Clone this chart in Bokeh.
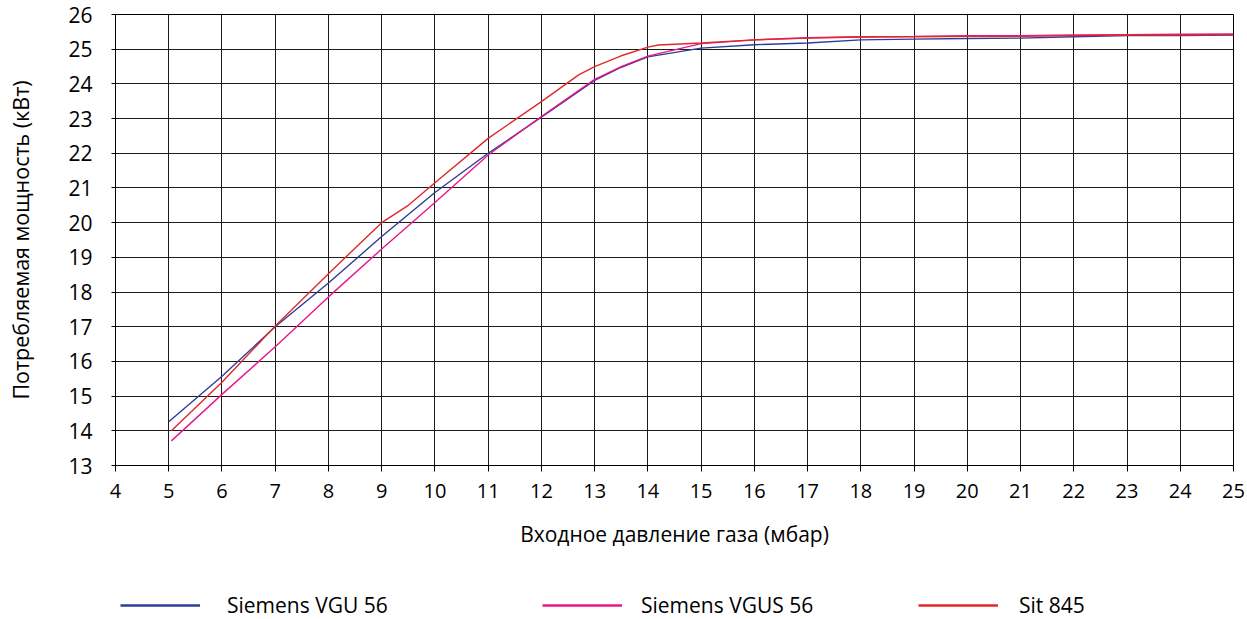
from bokeh.plotting import figure
from bokeh.layouts import column
from bokeh.models import FixedTicker, Legend, LegendItem, Range1d
from bokeh.embed import file_html
from bokeh.resources import INLINE

# ---- data ----
x_ticks = list(range(4, 26))
y_ticks = list(range(13, 27))

vgu_x = [5.0, 6, 7, 8, 9, 10, 11, 12, 13, 13.5, 14, 15, 16, 17, 18, 19, 20, 21, 22, 23, 24, 25]
vgu_y = [14.26, 15.57, 17.0, 18.26, 19.6, 20.87, 22.0, 23.04, 24.1, 24.48, 24.78, 25.03, 25.13,
         25.18, 25.27, 25.29, 25.31, 25.32, 25.36, 25.39, 25.39, 25.41]

vgus_x = [5.05, 6, 7, 8, 9, 10, 11, 12, 13, 13.5, 14, 15, 16, 17, 18, 19, 20, 21, 22, 23, 24, 25]
vgus_y = [13.71, 15.05, 16.42, 17.86, 19.24, 20.58, 21.95, 23.06, 24.13, 24.5, 24.8, 25.16, 25.27,
          25.33, 25.36, 25.37, 25.39, 25.39, 25.41, 25.42, 25.43, 25.44]

sit_x = [5.05, 6, 7, 8, 9, 9.5, 10, 11, 12, 12.7, 13, 13.5, 14, 14.2, 15, 16, 17, 18, 19, 20,
         21, 22, 23, 24, 25]
sit_y = [14.0, 15.4, 17.02, 18.53, 20.0, 20.5, 21.15, 22.43, 23.49, 24.26, 24.5, 24.81, 25.06,
         25.12, 25.18, 25.27, 25.32, 25.35, 25.36, 25.37, 25.37, 25.39, 25.41, 25.41, 25.42]

names = ["Siemens VGU 56", "Siemens VGUS 56", "Sit 845"]
colors = ["#2E3D96", "#E8178A", "#E0282B"]

x_title = "Входное давление газа (мбар)"
y_title = "Потребляемая мощность (кВт)"

FONT = "Open Sans"
W = 1247
MAIN_H = 575
LEG_H = 44

p = figure(width=W, height=MAIN_H, x_range=Range1d(4, 25), y_range=Range1d(13, 26),
           output_backend="svg", toolbar_location=None,
           min_border_left=115, min_border_right=14, min_border_top=14,
           min_border_bottom=MAIN_H - 465)

p.outline_line_color = "black"
p.outline_line_width = 1

for ax, ticks in ((p.xaxis, x_ticks), (p.yaxis, y_ticks)):
    ax.ticker = FixedTicker(ticks=ticks)
    ax.minor_tick_line_color = None
    ax.major_tick_in = 0
    ax.axis_line_color = "black"
    ax.major_tick_line_color = "black"
    ax.major_label_text_font = FONT
    ax.major_label_text_color = "black"
    ax.axis_label_text_font = FONT
    ax.axis_label_text_font_style = "normal"
    ax.axis_label_text_color = "black"

p.xaxis.major_tick_out = 6
p.xaxis.major_label_standoff = 12
p.xaxis.major_label_text_font_size = "20px"
p.xaxis.axis_label = x_title
p.xaxis.axis_label_text_font_size = "21px"
p.xaxis.axis_label_standoff = 19

p.yaxis.major_tick_out = 4
p.yaxis.major_label_standoff = 19
p.yaxis.major_label_text_font_size = "21px"
p.yaxis.axis_label = y_title
p.yaxis.axis_label_text_font_size = "21.5px"
p.yaxis.axis_label_standoff = 30

for g in (p.xgrid, p.ygrid):
    g.grid_line_color = "#1a1a1a"
    g.grid_line_width = 1

series = [(vgu_x, vgu_y), (vgus_x, vgus_y), (sit_x, sit_y)]
for (xs, ys), c in zip(series, colors):
    p.line(xs, ys, line_color=c, line_width=1.4)

# ---- legend strip below the chart (its frame is aligned with the chart's frame) ----
lf = figure(width=W, height=LEG_H, x_range=Range1d(0, 1), y_range=Range1d(0, 1),
            output_backend="svg", toolbar_location=None,
            x_axis_location=None, y_axis_location=None, min_border=0)
lf.outline_line_color = None
lf.grid.visible = False

leg_x = [5, 427, 803]
standoffs = [27, 19, 21]
for (xs, ys), name, c, lx, so in zip(series, names, colors, leg_x, standoffs):
    # same series, outside this strip's ranges: only its legend swatch shows
    r = lf.line(xs, ys, line_color=c, line_width=2.5)
    lg = Legend(items=[LegendItem(label=name, renderers=[r])], location=(lx, 0),
                orientation="horizontal", padding=0, margin=0, spacing=0,
                border_line_color=None, background_fill_alpha=0,
                glyph_width=80, glyph_height=20, label_standoff=so,
                label_text_font=FONT, label_text_font_size="21px", label_text_color="black")
    lf.add_layout(lg, "center")

layout = column(p, lf, spacing=0)
open("out.html", "w").write(file_html(layout, INLINE))
